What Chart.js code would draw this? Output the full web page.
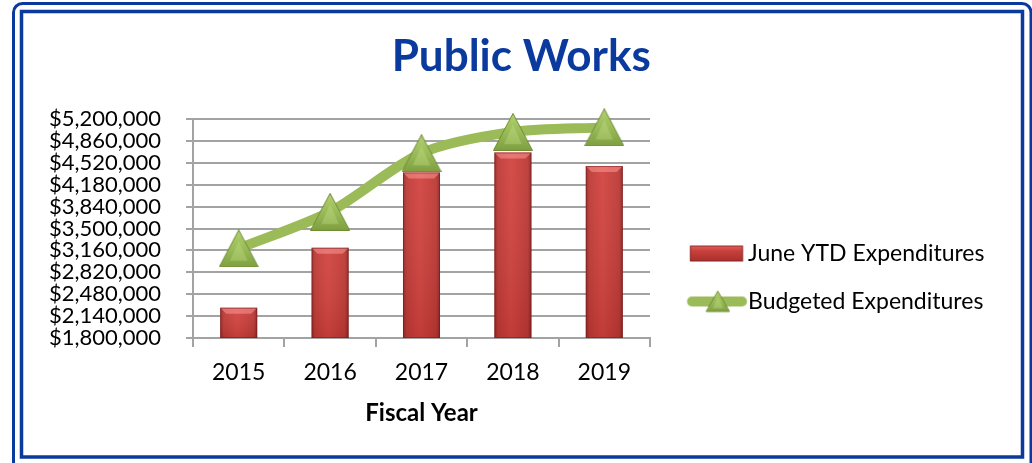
<!DOCTYPE html>
<html>
<head>
<meta charset="utf-8">
<title>Public Works</title>
<script src="https://cdn.jsdelivr.net/npm/chart.js@4/dist/chart.umd.min.js"></script>
<style>
  html, body { margin: 0; padding: 0; background: #ffffff; }
  #wrap { width: 1032px; height: 463px; }
  canvas { display: block; }
</style>
</head>
<body>
<div id="wrap"><canvas id="chart" width="1032" height="463"></canvas></div>
<script>
// ---- data ----
const fiscalYears = ['2015', '2016', '2017', '2018', '2019'];
const juneYtdExpenditures = [2270000, 3200000, 4370000, 4680000, 4470000];
const budgetedExpenditures = [3190000, 3760000, 4670000, 5000000, 5070000];
const seriesLabels = ['June YTD Expenditures', 'Budgeted Expenditures'];
const yAxisMin = 1800000;
const yAxisMax = 5200000;
const yAxisStep = 340000;

// ---- look ----
const FONT = 'Lato';
const BLUE = '#0B3A9E';
const GRID = '#A3A3A3';
const GREEN = '#9BBB59';
const BAR_PCT = 0.405;
const PLOT_LEFT = 193;
const PLOT_RIGHT = 650;
const TITLE_CENTER = 522;
const Y_FONT = 22;
const Y_TICK_LEN = 7;
const Y_TICK_PAD = 25;
const LEGEND_FONT = 23;
const LEGEND_PAD = 25;
const LEGEND_TEXT_X = 748;          // where legend text starts
const LEGEND_MARK_W = LEGEND_TEXT_X - PLOT_RIGHT - LEGEND_PAD - LEGEND_FONT / 2;
const LEGEND_IMG_W = 100;
const LEGEND_EXTRA = 10;            // Chart.js adds 10px to a vertical legend's width
// canvas x of the left edge of a legend image
const legendImgLeft = PLOT_RIGHT + LEGEND_PAD + LEGEND_MARK_W / 2 - LEGEND_IMG_W / 2;

Chart.defaults.font.family = FONT;
Chart.defaults.color = '#000';

function trianglePath(g, cx, cy, tw, th) {
  const top = cy - th / 2, bot = cy + th / 2;
  g.beginPath();
  g.moveTo(cx, top + 0.5);
  g.lineTo(cx + tw / 2 - 0.5, bot - 0.5);
  g.lineTo(cx - tw / 2 + 0.5, bot - 0.5);
  g.closePath();
  const grad = g.createLinearGradient(0, top, 0, bot);
  grad.addColorStop(0, '#B4D170');
  grad.addColorStop(0.55, '#97B956');
  grad.addColorStop(1, '#7F9F40');
  g.fillStyle = grad; g.fill();
  g.strokeStyle = '#6F8C37'; g.lineWidth = 1; g.stroke();
  g.beginPath();
  g.moveTo(cx, top + th * 0.3);
  g.lineTo(cx + tw * 0.22, bot - th * 0.18);
  g.lineTo(cx - tw * 0.22, bot - th * 0.18);
  g.closePath();
  g.fillStyle = 'rgba(200,225,140,0.35)'; g.fill();
}

// marker used on the budget line
function makePointMark() {
  const c = document.createElement('canvas');
  c.width = 40; c.height = 38;
  trianglePath(c.getContext('2d'), 20, 19, 40, 38);
  return c;
}

// legend swatch: short thick green line with a small triangle
function makeLineSwatch() {
  const c = document.createElement('canvas');
  c.width = LEGEND_IMG_W; c.height = 26;
  const g = c.getContext('2d');
  const cy = 13;
  g.strokeStyle = GREEN; g.lineWidth = 10; g.lineCap = 'round';
  g.beginPath();
  g.moveTo(692 - legendImgLeft, cy);
  g.lineTo(742 - legendImgLeft, cy);
  g.stroke();
  trianglePath(g, 718 - legendImgLeft, cy, 24, 21);
  return c;
}

// legend swatch: red bevelled bar
function makeBarSwatch() {
  const c = document.createElement('canvas');
  c.width = LEGEND_IMG_W; c.height = 22;
  const g = c.getContext('2d');
  const from = 690 - legendImgLeft, to = 743 - legendImgLeft;
  const bh = 16, y0 = 3;
  const grad = g.createLinearGradient(0, y0, 0, y0 + bh);
  grad.addColorStop(0, '#E0605C');
  grad.addColorStop(0.35, '#C9403C');
  grad.addColorStop(1, '#A7302D');
  g.fillStyle = grad; g.fillRect(from, y0, to - from, bh);
  g.strokeStyle = 'rgba(120,30,28,0.7)'; g.lineWidth = 1;
  g.strokeRect(from + 0.5, y0 + 0.5, to - from - 1, bh - 1);
  return c;
}

const pointMark = makePointMark();
const legendMarks = [makeBarSwatch(), makeLineSwatch()];

const fmtMoney = v => '$' + Number(v).toLocaleString('en-US');

// the legend's width sets where the plot ends on the right,
// the widest y label sets how far left the layout may start
const mctx = document.createElement('canvas').getContext('2d');
mctx.font = 'normal ' + LEGEND_FONT + 'px ' + FONT;
const legendTextW = Math.max(...seriesLabels.map(t => mctx.measureText(t).width));
const legendW = LEGEND_PAD + LEGEND_MARK_W + LEGEND_FONT / 2 + legendTextW + LEGEND_EXTRA;
mctx.font = 'normal ' + Y_FONT + 'px ' + FONT;
const yLabelW = mctx.measureText(fmtMoney(yAxisMax)).width;
const yLabelLeft = PLOT_LEFT - Y_TICK_LEN - Y_TICK_PAD - yLabelW;
const padRight = Math.max(0, 1032 - PLOT_RIGHT - legendW);
const padLeft = Math.max(0, Math.min(Math.floor(yLabelLeft), 2 * TITLE_CENTER - 1032 + padRight));

function barFill(context) {
  const chart = context.chart;
  const xs = chart.scales && chart.scales.x;
  if (!xs || !chart.chartArea) return '#C0504D';
  const cx = xs.getPixelForValue(context.dataIndex);
  const w = xs.width / fiscalYears.length * BAR_PCT;
  const g = chart.ctx.createLinearGradient(cx - w / 2, 0, cx + w / 2, 0);
  g.addColorStop(0, '#962A27');
  g.addColorStop(0.1, '#BE3A36');
  g.addColorStop(0.45, '#D24440');
  g.addColorStop(0.9, '#BC3935');
  g.addColorStop(1, '#8E2624');
  return g;
}

function roundRectPath(c, x, y, w, h, r) {
  c.beginPath();
  c.moveTo(x + r, y);
  c.lineTo(x + w - r, y);
  c.arcTo(x + w, y, x + w, y + r, r);
  c.lineTo(x + w, y + h - r);
  c.arcTo(x + w, y + h, x + w - r, y + h, r);
  c.lineTo(x + r, y + h);
  c.arcTo(x, y + h, x, y + h - r, r);
  c.lineTo(x, y + r);
  c.arcTo(x, y, x + r, y, r);
  c.closePath();
}

// white page with the double blue frame
const framePlugin = {
  id: 'frame',
  beforeDraw(chart) {
    const c = chart.ctx;
    c.save();
    c.fillStyle = '#ffffff';
    c.fillRect(0, 0, chart.width, chart.height);
    c.strokeStyle = BLUE;
    c.lineWidth = 3;
    roundRectPath(c, 13.5, 3.5, 1017.5, 480, 9);
    c.stroke();
    c.lineWidth = 3.5;
    c.strokeRect(21.5, 11.5, 1001, 445.5);
    c.restore();
  }
};

// bevel and shading over the bars
const barBevelPlugin = {
  id: 'barBevel',
  afterDatasetDraw(chart, args) {
    const ds = chart.data.datasets[args.index];
    if (ds.type !== 'bar') return;
    const c = chart.ctx;
    const bottom = chart.chartArea.bottom;
    c.save();
    args.meta.data.forEach(bar => {
      const p = bar.getProps(['x', 'y', 'base', 'width'], true);
      const base = Math.min(p.base, bottom);
      const l = p.x - p.width / 2, r = p.x + p.width / 2, b = 6;
      const shade = c.createLinearGradient(0, p.y, 0, base);
      shade.addColorStop(0, 'rgba(255,255,255,0.05)');
      shade.addColorStop(1, 'rgba(70,0,0,0.12)');
      c.fillStyle = shade;
      c.fillRect(l, p.y, p.width, base - p.y);
      c.beginPath();
      c.moveTo(l, p.y); c.lineTo(r, p.y);
      c.lineTo(r - b, p.y + b); c.lineTo(l + b, p.y + b);
      c.closePath();
      c.fillStyle = 'rgba(255,160,155,0.5)';
      c.fill();
      c.strokeStyle = 'rgba(115,28,25,0.55)';
      c.lineWidth = 1;
      c.strokeRect(l + 0.5, p.y + 0.5, p.width - 1, base - p.y - 1);
    });
    c.restore();
  }
};

new Chart(document.getElementById('chart'), {
  data: {
    labels: fiscalYears,
    datasets: [
      {
        type: 'bar',
        label: seriesLabels[0],
        data: juneYtdExpenditures,
        backgroundColor: barFill,
        borderWidth: 0,
        barPercentage: BAR_PCT,
        categoryPercentage: 1,
        order: 2
      },
      {
        type: 'line',
        label: seriesLabels[1],
        data: budgetedExpenditures,
        borderColor: GREEN,
        borderWidth: 10,
        tension: 0.28,
        fill: false,
        pointStyle: pointMark,
        pointRadius: 20,
        pointHoverRadius: 20,
        clip: false,
        order: 1
      }
    ]
  },
  plugins: [framePlugin, barBevelPlugin],
  options: {
    responsive: false,
    animation: false,
    events: [],
    layout: { padding: { left: padLeft, right: padRight, top: 0, bottom: 35.6 } },
    plugins: {
      title: {
        display: true,
        text: 'Public Works',
        color: BLUE,
        font: { size: 44, weight: 'bold' },
        padding: { top: 30.6, bottom: 35.6 }
      },
      legend: {
        position: 'right',
        align: 'end',
        fullSize: false,
        maxWidth: 600,
        labels: {
          usePointStyle: true,
          pointStyleWidth: LEGEND_MARK_W,
          padding: LEGEND_PAD,
          color: '#000',
          font: { size: LEGEND_FONT },
          generateLabels: chart => chart.data.datasets.map((ds, i) => ({
            text: ds.label,
            datasetIndex: i,
            pointStyle: legendMarks[i],
            fillStyle: 'rgba(0,0,0,0)',
            strokeStyle: 'rgba(0,0,0,0)',
            lineWidth: 0,
            hidden: false
          }))
        }
      },
      tooltip: { enabled: false }
    },
    scales: {
      x: {
        grid: { offset: true, drawOnChartArea: false, color: GRID, lineWidth: 2, tickLength: 9 },
        border: { color: GRID, width: 2 },
        ticks: { padding: 12, color: '#000', font: { size: 23 } },
        title: {
          display: true,
          text: 'Fiscal Year',
          color: '#000',
          font: { size: 24, weight: 'bold' },
          padding: { top: 0, bottom: 0 }
        }
      },
      y: {
        min: yAxisMin,
        max: yAxisMax,
        afterFit(scale) { scale.width = PLOT_LEFT - padLeft; },
        grid: { color: GRID, lineWidth: 2, tickLength: Y_TICK_LEN },
        border: { color: GRID, width: 2 },
        ticks: {
          stepSize: yAxisStep,
          autoSkip: false,
          padding: Y_TICK_PAD,
          color: '#000',
          font: { size: Y_FONT, lineHeight: 1 },
          callback: fmtMoney
        }
      }
    }
  }
});
</script>
</body>
</html>
